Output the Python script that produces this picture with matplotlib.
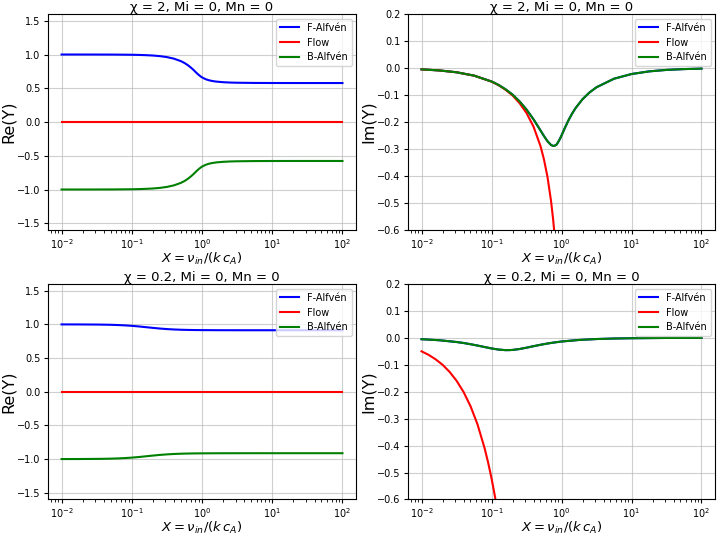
import matplotlib
matplotlib.use("Agg")
import matplotlib.pyplot as plt

# x grid for the Alfven branches, chi = 2
x_c2 = [0.01, 0.0178, 0.0316, 0.0562, 0.1, 0.126, 0.158, 0.2, 0.251, 0.316,
        0.398, 0.501, 0.562, 0.631, 0.708, 0.759, 0.794, 0.851, 0.891, 0.955,
        1.0, 1.122, 1.259, 1.413, 1.585, 1.995, 2.512, 3.162, 5.623, 10.0,
        17.78, 31.62, 56.23, 100.0]
re_falf_c2 = [1.0000, 0.9999, 0.9996, 0.9988, 0.9962, 0.9940, 0.9905, 0.9850,
              0.9761, 0.9618, 0.9388, 0.9015, 0.8749, 0.8410, 0.7990, 0.7700,
              0.7500, 0.7193, 0.7008, 0.6756, 0.6614, 0.6349, 0.6178, 0.6068,
              0.5991, 0.5898, 0.5847, 0.5819, 0.5788, 0.5778, 0.5776, 0.5774,
              0.5774, 0.5774]
re_balf_c2 = [-v for v in re_falf_c2]
im_alf_c2 = [-0.0050, -0.0089, -0.0158, -0.0281, -0.0499, -0.0627, -0.0787,
             -0.0987, -0.1235, -0.1539, -0.1901, -0.2313, -0.2522, -0.2713,
             -0.2850, -0.2885, -0.2882, -0.2834, -0.2755, -0.2612, -0.2500,
             -0.2208, -0.1934, -0.1694, -0.1488, -0.1156, -0.0906, -0.0713,
             -0.0397, -0.0223, -0.0125, -0.0070, -0.0040, -0.0022]
# flow branch, chi = 2
x_flow_c2 = x_c2[:21]
im_flow_c2 = [-0.0050, -0.0089, -0.0158, -0.0282, -0.0503, -0.0635, -0.0803,
              -0.1018, -0.1298, -0.1666, -0.2170, -0.2892, -0.3391, -0.4040,
              -0.4919, -0.5609, -0.6151, -0.7099, -0.7860, -0.9102, -1.0000]

# chi = 0.2
x_c02 = [0.01, 0.0178, 0.0316, 0.0398, 0.0501, 0.0631, 0.0794, 0.1, 0.126,
         0.158, 0.178, 0.2, 0.251, 0.316, 0.398, 0.501, 0.631, 0.794, 1.0,
         1.778, 3.162, 5.623, 10.0, 31.62, 100.0]
re_falf_c02 = [0.9997, 0.9992, 0.9974, 0.9960, 0.9937, 0.9904, 0.9854, 0.9785,
               0.9695, 0.9589, 0.9534, 0.9480, 0.9382, 0.9303, 0.9245, 0.9204,
               0.9177, 0.9160, 0.9149, 0.9135, 0.9131, 0.9129, 0.9129, 0.9129,
               0.9129]
re_balf_c02 = [-v for v in re_falf_c02]
im_alf_c02 = [-0.0050, -0.0088, -0.0154, -0.0191, -0.0236, -0.0286, -0.0340,
              -0.0393, -0.0435, -0.0456, -0.0455, -0.0448, -0.0415, -0.0365,
              -0.0310, -0.0257, -0.0210, -0.0170, -0.0136, -0.0078, -0.0044,
              -0.0025, -0.0014, -0.0004, -0.0001]
x_flow_c02 = [0.01, 0.0126, 0.0158, 0.02, 0.0251, 0.0316, 0.0398, 0.0501,
              0.0631, 0.0794, 0.0891, 0.1, 0.1122, 0.1259]
im_flow_c02 = [-0.0500, -0.0630, -0.0793, -0.1000, -0.1260, -0.1589, -0.2006,
               -0.2536, -0.3214, -0.4085, -0.4611, -0.5214, -0.5900, -0.6683]

titles = ["χ = 2, Mi = 0, Mn = 0", "χ = 0.2, Mi = 0, Mn = 0"]
xlab = r"$X = \nu_{in}/(k\,c_A)$"

fig = plt.figure(figsize=(7.18, 5.35), dpi=100)
ax1 = fig.add_axes([0.0662, 0.5701, 0.4303, 0.4037])
ax2 = fig.add_axes([0.5676, 0.5701, 0.4289, 0.4037])
ax3 = fig.add_axes([0.0662, 0.0664, 0.4303, 0.4028])
ax4 = fig.add_axes([0.5676, 0.0664, 0.4289, 0.4028])

panels = [
    (ax1, x_c2, re_falf_c2, x_c2, [0.0] * len(x_c2), re_balf_c2, titles[0], "Re(Y)"),
    (ax2, x_c2, im_alf_c2, x_flow_c2, im_flow_c2, im_alf_c2, titles[0], "Im(Y)"),
    (ax3, x_c02, re_falf_c02, x_c02, [0.0] * len(x_c02), re_balf_c02, titles[1], "Re(Y)"),
    (ax4, x_c02, im_alf_c02, x_flow_c02, im_flow_c02, im_alf_c02, titles[1], "Im(Y)"),
]

for ax, xa, fa, xf, fl, ba, title, ylab in panels:
    ax.plot(xa, fa, color="b", lw=1.5, label="F-Alfvén")
    ax.plot(xf, fl, color="r", lw=1.5, label="Flow")
    ax.plot(xa, ba, color="g", lw=1.5, label="B-Alfvén")
    ax.set_xscale("log")
    if ylab == "Re(Y)":
        ax.set_ylim(-1.6, 1.6)
        ax.set_yticks([-1.5, -1.0, -0.5, 0.0, 0.5, 1.0, 1.5])
    else:
        ax.set_ylim(-0.6, 0.2)
        ax.set_yticks([-0.6, -0.5, -0.4, -0.3, -0.2, -0.1, 0.0, 0.1, 0.2])
    ax.set_title(title, fontsize=9.5, pad=2)
    ax.set_xlabel(xlab, fontsize=9.5, labelpad=0)
    ax.set_ylabel(ylab, fontsize=11.5, labelpad=1)
    ax.tick_params(labelsize=7, pad=2, length=3)
    ax.grid(True, color="#b0b0b0", alpha=0.6, lw=0.8)
    ax.legend(loc="upper right", fontsize=7, handlelength=2.0)

fig.savefig("out.png", dpi=100)
